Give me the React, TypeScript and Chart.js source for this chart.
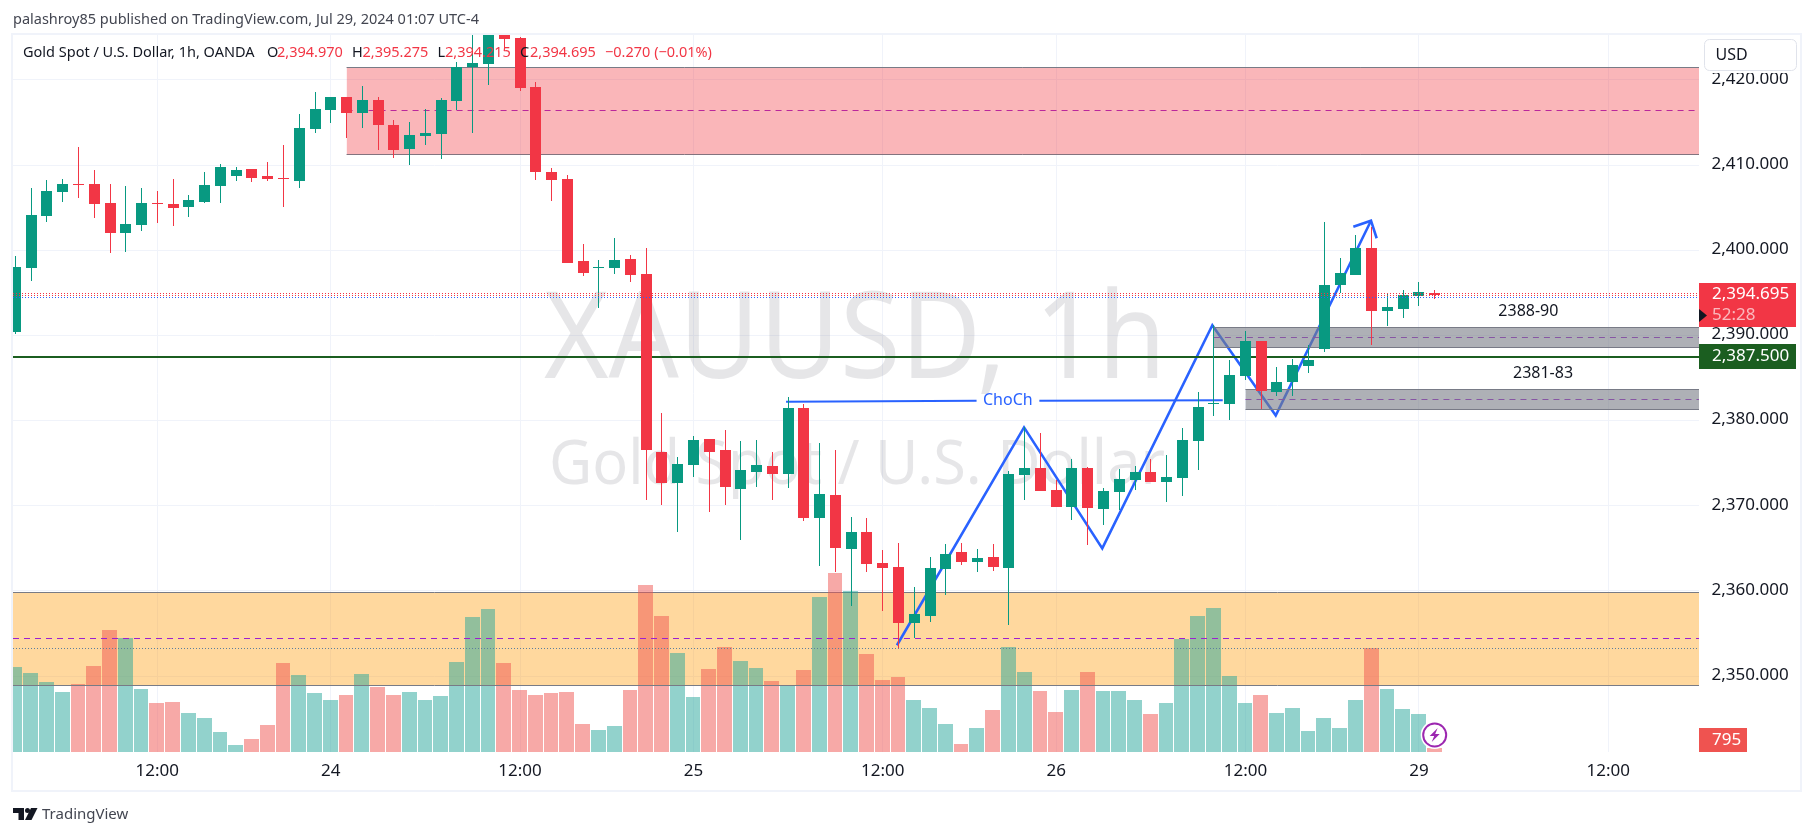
import React, { useEffect, useRef } from "react";
import { Chart, registerables } from "chart.js";

Chart.register(...registerables);

const FONT = '"Noto Sans", sans-serif';
const GREEN = "#089981";
const RED = "#f23645";
const BLUE = "#2962ff";
const PURPLE = "#9c27b0";
const DASH_PURPLE = "#9c20d0";
const DARK_GREEN = "#1b5e20";
const ZONE_EDGE = "#787b86";
const INK = "#131722";

const opens = [2390.4,2397.95,2404.01,2406.83,2407.77,2407.77,2405.54,2402.02,2402.96,2405.54,2405.42,2405.07,2405.66,2407.53,2408.71,2409.53,2408.71,2408.48,2408.12,2414.2,2416.45,2418,2416.1,2417.6,2414.7,2411.88,2413.4,2413.64,2417.5,2421.46,2421.85,2425.4,2424.9,2419.16,2409.18,2408.36,2398.73,2397.9,2397.9,2398.97,2397.2,2376.3,2372.68,2374.8,2377.84,2376.55,2372,2374,2374.68,2373.74,2381.48,2368.57,2371.27,2364.93,2366.93,2363.3,2362.8,2356.26,2357.07,2362.6,2364.6,2363.4,2364,2362.7,2373.6,2374.44,2371.86,2369.87,2374.44,2369.63,2371.62,2373.03,2373.97,2372.8,2373.26,2377.6,2381.95,2381.95,2385.25,2389.34,2383.36,2384.53,2386.4,2388.4,2395.9,2397.1,2400.26,2392.86,2393.1,2394.62,2394.97];
const highs = [2399.3,2407.3,2408.24,2408.36,2412.11,2409.41,2407.77,2407.53,2407.3,2406.95,2408.36,2406.48,2409.18,2410.12,2409.77,2409.53,2410.36,2412.35,2416.03,2418.6,2418,2418,2419.3,2418,2415.3,2415.05,2416.57,2417.86,2422.1,2427,2428,2426,2425,2419.74,2409.65,2408.83,2400.73,2398.85,2401.43,2399.44,2400.26,2380.9,2375.73,2378.2,2377.84,2378.9,2377.6,2377.73,2376.3,2382.77,2381.95,2377.37,2376.55,2368.7,2368.57,2364.8,2365.6,2360.5,2364,2365.5,2365.6,2364.93,2365.5,2374.1,2379.25,2378.55,2373.03,2375.5,2374.56,2372.1,2374.3,2374.67,2375.5,2375.96,2379.13,2383.35,2391.2,2387.1,2390.5,2389.34,2386.3,2387.2,2388.87,2403.3,2399.08,2401.8,2402.7,2394.87,2395.33,2396.27,2395.275];
const lows = [2390.2,2396.4,2403.3,2405.66,2406.13,2403.78,2399.67,2399.79,2402.25,2403.19,2402.84,2403.9,2405.54,2405.54,2408.12,2408,2408.12,2405.07,2407.3,2413.75,2414.93,2413.16,2414.34,2411.76,2410.8,2410,2412.35,2410.7,2416.45,2413.75,2419.4,2423.75,2418.7,2408.24,2405.78,2398.5,2396.97,2393.2,2397.2,2396.27,2370.68,2370.1,2366.93,2373.38,2369.27,2370.1,2366,2372.2,2370.68,2372.1,2368.2,2362.93,2362.23,2358.25,2362.23,2357.66,2353.3,2354.5,2356.35,2359.5,2363.05,2362.23,2362.35,2356,2370.68,2371.74,2369.87,2368.33,2365.4,2367.75,2369.5,2371.86,2372.8,2370.45,2371.15,2374.2,2380.54,2380.1,2384.8,2381.35,2382.9,2382.9,2385.6,2388.05,2395,2397.1,2388.87,2391.1,2392.05,2393.45,2394.215];
const closes = [2398.06,2404.13,2406.95,2407.77,2407.65,2405.42,2402.02,2403.07,2405.54,2405.42,2404.95,2405.89,2407.65,2409.77,2409.41,2408.48,2408.36,2408.36,2414.34,2416.6,2418,2416.1,2417.6,2414.7,2411.76,2413.5,2413.75,2417.6,2421.46,2421.99,2426.5,2424.8,2419.04,2409.18,2408.24,2398.5,2397.33,2398,2398.85,2397.09,2376.55,2372.68,2374.9,2377.73,2376.3,2372.2,2374.2,2374.8,2373.74,2381.48,2368.57,2371.39,2365.05,2366.93,2363.17,2362.7,2356.26,2357.3,2362.7,2364.3,2363.4,2363.9,2362.8,2373.74,2374.44,2371.74,2369.87,2374.44,2369.75,2371.74,2373.15,2373.97,2372.8,2373.38,2377.73,2381.6,2382.07,2385.36,2389.3,2383.47,2384.53,2386.5,2387.1,2395.9,2397.3,2400.26,2392.86,2393.34,2394.74,2395.1,2394.695];
const volumes = [17000,15800,14000,12000,13600,17200,24400,22800,12600,9800,10000,7800,6800,4000,1400,2600,5400,17800,15400,11800,10400,11400,15600,13000,11400,12000,10400,11200,18000,27000,28600,17800,12400,11400,11800,12000,5600,4400,5200,12400,33400,27200,19800,11000,16600,21000,18200,16800,14200,13400,16400,31000,35800,32200,19600,14400,15000,10400,8800,5600,1600,4800,8400,21000,16000,12200,8000,12400,16000,12200,12200,10400,7600,9800,22600,27200,28800,15200,9800,11400,7800,8800,4200,6800,4800,10400,20800,12600,8600,7600,795];

const priceTicks = [2350,2360,2370,2380,2390,2400,2410,2420];
const timeTickBars = [9,20,32,43,55,66,78,89,101];
const timeTickLabels = ["12:00","24","12:00","25","12:00","26","12:00","29","12:00"];

const X_MIN = -0.152;
const X_MAX = 106.76;
const Y_MIN = 2341.1;
const Y_MAX = 2425.26;
const VOL_MAX = 143400;

const zoneRed = [21, 2421.47, 2411.26, 2416.36];
const zoneOrange = [X_MIN, 2359.85, 2348.93, 2354.45];
const zoneGrayUpper = [76, 2390.95, 2388.6, 2389.78];
const zoneGrayLower = [78, 2383.67, 2381.32, 2382.45];

const zigzagBars = [55.9,63.96,68.92,75.9,79.92,85.96];
const zigzagPrices = [2353.63,2379.2,2365,2391.2,2380.6,2403.46];
const arrowBars = [84.84,85.96,86.32];
const arrowPrices = [2402.76,2403.46,2401.4];
const chochBars = [48.87,60.95,64.93,76.56];
const chochPrices = [2382.2,2382.33,2382.33,2382.4];

const lastPrice = 2394.695;
const lineAbove = 2394.94;
const lineBelow = 2394.47;
const levelGreen = 2387.5;
const levelDotted = 2353.27;

function pts(xs: number[], ys: number[]) {
  return xs.map((x, i) => ({ x, y: ys[i] }));
}
function hline(x0: number, y: number, extra: any) {
  return {
    type: "line",
    snap: "h",
    data: [{ x: x0, y }, { x: X_MAX, y }],
    pointRadius: 0,
    borderWidth: 1,
    fill: false,
    yAxisID: "y",
    xAxisID: "x",
    ...extra,
  };
}
function zone(z: number[], fillColor: string, fillOrder: number, lineOrder: number) {
  return [
    hline(z[0], z[1], { borderColor: ZONE_EDGE, fill: { value: z[2] }, backgroundColor: fillColor, order: fillOrder }),
    hline(z[0], z[2], { borderColor: ZONE_EDGE, order: lineOrder }),
    hline(z[0], z[3], { borderColor: DASH_PURPLE, borderDash: [6, 5], order: lineOrder }),
  ];
}

const snapPlugin = {
  id: "snap",
  afterDatasetsUpdate(chart: any) {
    chart.data.datasets.forEach((ds: any, i: number) => {
      if (!ds.snap) return;
      chart.getDatasetMeta(i).data.forEach((el: any) => {
        if (ds.snap === "h") {
          el.y = ds.borderWidth === 2 ? Math.round(el.y) : Math.floor(el.y) + 0.5;
          return;
        }
        if (ds.snap === "vol") {
          const l = Math.round(el.x - 7.885);
          const r = Math.round(el.x + 7.885) - 1;
          el.x = (l + r) / 2;
          el.width = r - l;
        } else {
          el.x = Math.floor(el.x) + 0.5;
        }
        const a = Math.round(Math.min(el.y, el.base));
        let b = Math.round(Math.max(el.y, el.base));
        if (b - a < 1) b = a + 1;
        el.y = a;
        el.base = b;
        el.height = b - a;
      });
    });
  },
};

function text(ctx: any, s: string, x: number, y: number, font: string, color: string, align = "left", maxW?: number) {
  ctx.font = font;
  ctx.fillStyle = color;
  ctx.textAlign = align;
  ctx.textBaseline = "middle";
  if (maxW) ctx.fillText(s, x, y, maxW);
  else ctx.fillText(s, x, y);
}

const watermarkPlugin = {
  id: "watermark",
  beforeDatasetsDraw(chart: any) {
    const ctx = chart.ctx;
    ctx.save();
    ctx.textBaseline = "alphabetic";
    ctx.textAlign = "center";
    ctx.fillStyle = "rgba(120,123,134,0.19)";
    ctx.font = `120px ${FONT}`;
    ctx.fillText("XAUUSD, 1h", 855, 378, 622);
    ctx.font = `62px ${FONT}`;
    ctx.fillText("Gold Spot / U.S. Dollar", 857, 484, 616);
    ctx.restore();
  },
};

const overlayPlugin = {
  id: "overlay",
  afterDraw(chart: any) {
    const ctx = chart.ctx;
    const xs = chart.scales.x;
    const ys = chart.scales.y;
    const vs = chart.scales.yVol;
    ctx.save();

    // frame
    ctx.strokeStyle = "#f0f3fa";
    ctx.lineWidth = 2;
    ctx.strokeRect(12, 34, 1789, 757);

    // header + legend
    text(ctx, "palashroy85 published on TradingView.com, Jul 29, 2024 01:07 UTC-4", 13, 20, `14.5px ${FONT}`, "#434651");
    const lf = `14.5px ${FONT}`;
    text(ctx, "Gold Spot / U.S. Dollar, 1h, OANDA", 23, 53, lf, INK);
    text(ctx, "O", 267, 53, lf, INK);
    text(ctx, "2,394.970", 277, 53, lf, RED);
    text(ctx, "H", 352, 53, lf, INK);
    text(ctx, "2,395.275", 362.5, 53, lf, RED);
    text(ctx, "L", 437.5, 53, lf, INK);
    text(ctx, "2,394.215", 445, 53, lf, RED);
    text(ctx, "C", 520, 53, lf, INK);
    text(ctx, "2,394.695", 530, 53, lf, RED);
    text(ctx, "\u22120.270 (\u22120.01%)", 605, 53, lf, RED);

    // drawing labels
    const af = `16px ${FONT}`;
    text(ctx, "ChoCh", xs.getPixelForValue(62.93), ys.getPixelForValue(2382.33), af, BLUE, "center");
    text(ctx, "2388-90", xs.getPixelForValue(95.94), ys.getPixelForValue(2392.8), af, INK, "center");
    text(ctx, "2381-83", xs.getPixelForValue(96.87), ys.getPixelForValue(2385.55), af, INK, "center");

    // USD box
    ctx.fillStyle = "#ffffff";
    ctx.fillRect(1703, 38, 95, 35);
    ctx.strokeStyle = "#e0e3eb";
    ctx.lineWidth = 1;
    ctx.beginPath();
    ctx.roundRect(1704.5, 39.5, 92, 31, 5);
    ctx.fill();
    ctx.stroke();
    text(ctx, "USD", 1715.5, 55, `16px ${FONT}`, INK);

    // price labels
    const ax = `17px ${FONT}`;
    const yLast = ys.getPixelForValue(lastPrice);
    ctx.fillStyle = RED;
    ctx.fillRect(1699, Math.round(yLast - 12), 97, 44);
    text(ctx, "2,394.695", 1712, yLast - 1, ax, "#ffffff");
    text(ctx, "52:28", 1712, yLast + 19.5, ax, "rgba(255,255,255,0.65)");
    ctx.fillStyle = INK;
    ctx.beginPath();
    ctx.moveTo(1699, yLast + 13.5);
    ctx.lineTo(1707, yLast + 20);
    ctx.lineTo(1699, yLast + 26.5);
    ctx.closePath();
    ctx.fill();

    const yGreen = ys.getPixelForValue(levelGreen);
    ctx.fillStyle = DARK_GREEN;
    ctx.fillRect(1699, Math.round(yGreen - 12.5), 97, 25);
    text(ctx, "2,387.500", 1712, yGreen - 1, ax, "#ffffff");

    const yVolTop = vs.getPixelForValue(0);
    ctx.fillStyle = "#ef5350";
    ctx.fillRect(1699, yVolTop - 24, 48, 24);
    text(ctx, "795", 1712, yVolTop - 12, ax, "#ffffff");

    // bolt marker on the last bar
    const bx = xs.getPixelForValue(90);
    const by = 735;
    ctx.fillStyle = "#ffffff";
    ctx.beginPath();
    ctx.arc(bx, by, 14, 0, Math.PI * 2);
    ctx.fill();
    ctx.strokeStyle = PURPLE;
    ctx.lineWidth = 2;
    ctx.beginPath();
    ctx.arc(bx, by, 11.5, 0, Math.PI * 2);
    ctx.stroke();
    ctx.fillStyle = PURPLE;
    ctx.beginPath();
    ctx.moveTo(bx + 3, by - 7);
    ctx.lineTo(bx - 5, by + 1);
    ctx.lineTo(bx - 0.5, by + 1);
    ctx.lineTo(bx - 3, by + 7);
    ctx.lineTo(bx + 5, by - 1);
    ctx.lineTo(bx + 0.5, by - 1);
    ctx.closePath();
    ctx.fill();

    // TradingView mark
    ctx.fillStyle = INK;
    ctx.fillRect(13, 808, 11, 5);
    ctx.fillRect(18.5, 808, 5.5, 12);
    ctx.beginPath();
    ctx.arc(27.5, 810.5, 2.5, 0, Math.PI * 2);
    ctx.fill();
    ctx.beginPath();
    ctx.moveTo(31, 808);
    ctx.lineTo(37.5, 808);
    ctx.lineTo(31.5, 820);
    ctx.lineTo(25, 820);
    ctx.closePath();
    ctx.fill();
    text(ctx, "TradingView", 42, 815, `15px ${FONT}`, "#434651", "left", 88);
    ctx.restore();
  },
};

export default function App() {
  const ref = useRef<HTMLCanvasElement | null>(null);
  useEffect(() => {
    if (!ref.current) return;
    const idx = closes.map((_, i) => i);
    const isUp = (i: number) => closes[i] >= opens[i];
    const chart = new Chart(ref.current, {
      type: "bar",
      data: {
        datasets: [
          ...zone(zoneOrange, "rgba(255,152,0,0.38)", 110, 99),
          {
            type: "bar",
            snap: "vol",
            data: idx.map((i) => ({ x: i, y: volumes[i] })),
            yAxisID: "yVol",
            xAxisID: "x",
            grouped: false,
            barThickness: 15,
            inflateAmount: 0,
            order: 100,
            backgroundColor: idx.map((i) => (isUp(i) ? "rgba(38,166,154,0.5)" : "rgba(239,83,80,0.5)")),
          },
          hline(X_MIN, levelDotted, { borderColor: "#5c7f9e", borderDash: [1, 2], order: 89 }),
          ...zone(zoneRed, "rgba(242,54,60,0.36)", 88, 88),
          {
            type: "line",
            data: pts(zigzagBars, zigzagPrices),
            xAxisID: "x",
            yAxisID: "y",
            borderColor: BLUE,
            borderWidth: 2.6,
            pointRadius: 0,
            fill: false,
            tension: 0,
            order: 80,
          },
          {
            type: "line",
            data: pts(arrowBars, arrowPrices),
            xAxisID: "x",
            yAxisID: "y",
            borderColor: BLUE,
            borderWidth: 2.6,
            pointRadius: 0,
            fill: false,
            order: 80,
          },
          {
            type: "line",
            data: [
              { x: chochBars[0], y: chochPrices[0] },
              { x: chochBars[1], y: chochPrices[1] },
              { x: 62.93, y: null },
              { x: chochBars[2], y: chochPrices[2] },
              { x: chochBars[3], y: chochPrices[3] },
            ],
            xAxisID: "x",
            yAxisID: "y",
            borderColor: BLUE,
            borderWidth: 2,
            pointRadius: 0,
            fill: false,
            spanGaps: false,
            order: 80,
          },
          ...zone(zoneGrayUpper, "rgba(120,123,134,0.6)", 70, 70),
          ...zone(zoneGrayLower, "rgba(120,123,134,0.6)", 70, 70),
          hline(X_MIN, levelGreen, { borderColor: DARK_GREEN, borderWidth: 2, order: 65 }),
          {
            type: "bar",
            snap: "candle",
            data: idx.map((i) => ({ x: i, y: [lows[i], highs[i]] })),
            yAxisID: "y",
            xAxisID: "x",
            grouped: false,
            barThickness: 1,
            inflateAmount: 0,
            order: 50,
            backgroundColor: idx.map((i) => (isUp(i) ? GREEN : RED)),
          },
          {
            type: "bar",
            snap: "candle",
            data: idx.map((i) => ({ x: i, y: [opens[i], closes[i]] })),
            yAxisID: "y",
            xAxisID: "x",
            grouped: false,
            barThickness: 11,
            inflateAmount: 0,
            order: 40,
            backgroundColor: idx.map((i) => (isUp(i) ? GREEN : RED)),
          },
          hline(X_MIN, lineAbove, { borderColor: RED, borderDash: [1, 2], order: 30 }),
          hline(X_MIN, lastPrice, { borderColor: RED, borderDash: [1, 2], order: 30 }),
          hline(X_MIN, lineBelow, { borderColor: BLUE, borderDash: [1, 2], order: 30 }),
        ] as any,
      },
      options: {
        animation: false,
        responsive: false,
        devicePixelRatio: 1,
        layout: { autoPadding: false, padding: { left: 13, top: 35, right: 13, bottom: 45 } },
        plugins: { legend: { display: false }, tooltip: { enabled: false }, title: { display: false } },
        events: [],
        scales: {
          x: {
            type: "linear",
            offset: false,
            min: X_MIN,
            max: X_MAX,
            position: "bottom",
            border: { display: false },
            grid: { color: "#f0f3fa", drawTicks: false, offset: false },
            afterBuildTicks(axis: any) {
              axis.ticks = timeTickBars.map((value) => ({ value }));
            },
            afterFit(axis: any) {
              axis.height = 39;
            },
            ticks: {
              autoSkip: false,
              maxRotation: 0,
              padding: 9,
              color: INK,
              font: { family: FONT, size: 17 },
              callback: (v: any) => timeTickLabels[timeTickBars.indexOf(Number(v))] ?? "",
            },
          },
          y: {
            type: "linear",
            min: Y_MIN,
            max: Y_MAX,
            position: "right",
            border: { display: false },
            grid: { color: "#f0f3fa", drawTicks: false },
            afterBuildTicks(axis: any) {
              axis.ticks = priceTicks.map((value) => ({ value }));
            },
            afterFit(axis: any) {
              axis.width = 102;
            },
            ticks: {
              padding: 12.5,
              color: INK,
              font: { family: FONT, size: 17, lineHeight: "2px" },
              callback: (v: any) => [
                Number(v).toLocaleString("en-US", { minimumFractionDigits: 3, maximumFractionDigits: 3 }),
                "",
              ],
            },
          },
          yVol: { type: "linear", min: 0, max: VOL_MAX, display: false, position: "left" },
        },
      } as any,
      plugins: [snapPlugin, watermarkPlugin, overlayPlugin] as any,
    });
    return () => chart.destroy();
  }, []);
  return (
    <div style={{ position: "absolute", left: 0, top: 0, width: 1814, height: 836, background: "#fff" }}>
      <canvas ref={ref} width={1814} height={836} style={{ display: "block" }} />
    </div>
  );
}
